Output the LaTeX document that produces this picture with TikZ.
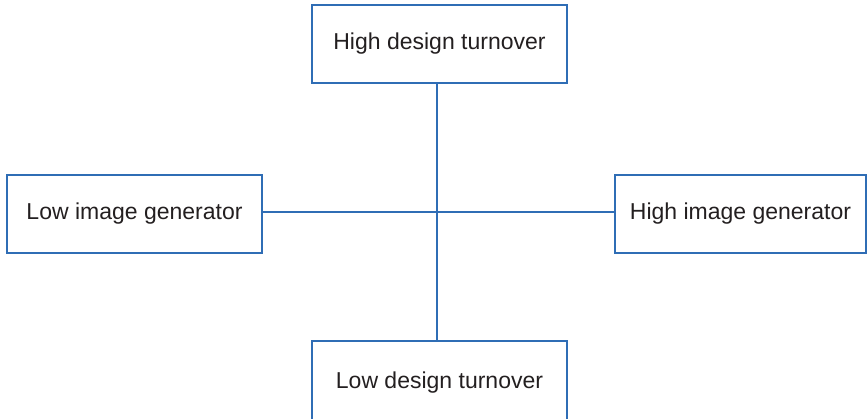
\documentclass[tikz,border=0pt]{standalone}
\usepackage{fontspec}
\setmainfont{Liberation Sans}
\definecolor{lineblue}{HTML}{2F6DB5}
\definecolor{txt}{HTML}{231F20}
\begin{document}
\begin{tikzpicture}[x=1pt,y=-1pt,
  box/.style={draw=lineblue,line width=1.2pt,rectangle,inner sep=0pt,minimum height=78pt,
    text=txt,font=\fontsize{23}{27}\selectfont},
  conn/.style={draw=lineblue,line width=1.2pt}]
\useasboundingbox (0,0) rectangle (868,418);
\node[box,minimum width=255pt] (top) at (439.5,44) {High design turnover};
\node[box,minimum width=255pt] (left) at (134.5,214) {Low image generator};
\node[box,minimum width=251pt] (right) at (740.5,214) {High image generator};
\node[box,minimum width=255pt,minimum height=82pt,text depth=0pt] (bot) at (439.5,382) {\raisebox{3pt}{Low design turnover}};
\coordinate (c) at (437,212);
\draw[conn] (top.south -| c) -- (bot.north -| c);
\draw[conn] (left.east |- c) -- (right.west |- c);
\end{tikzpicture}
\end{document}
